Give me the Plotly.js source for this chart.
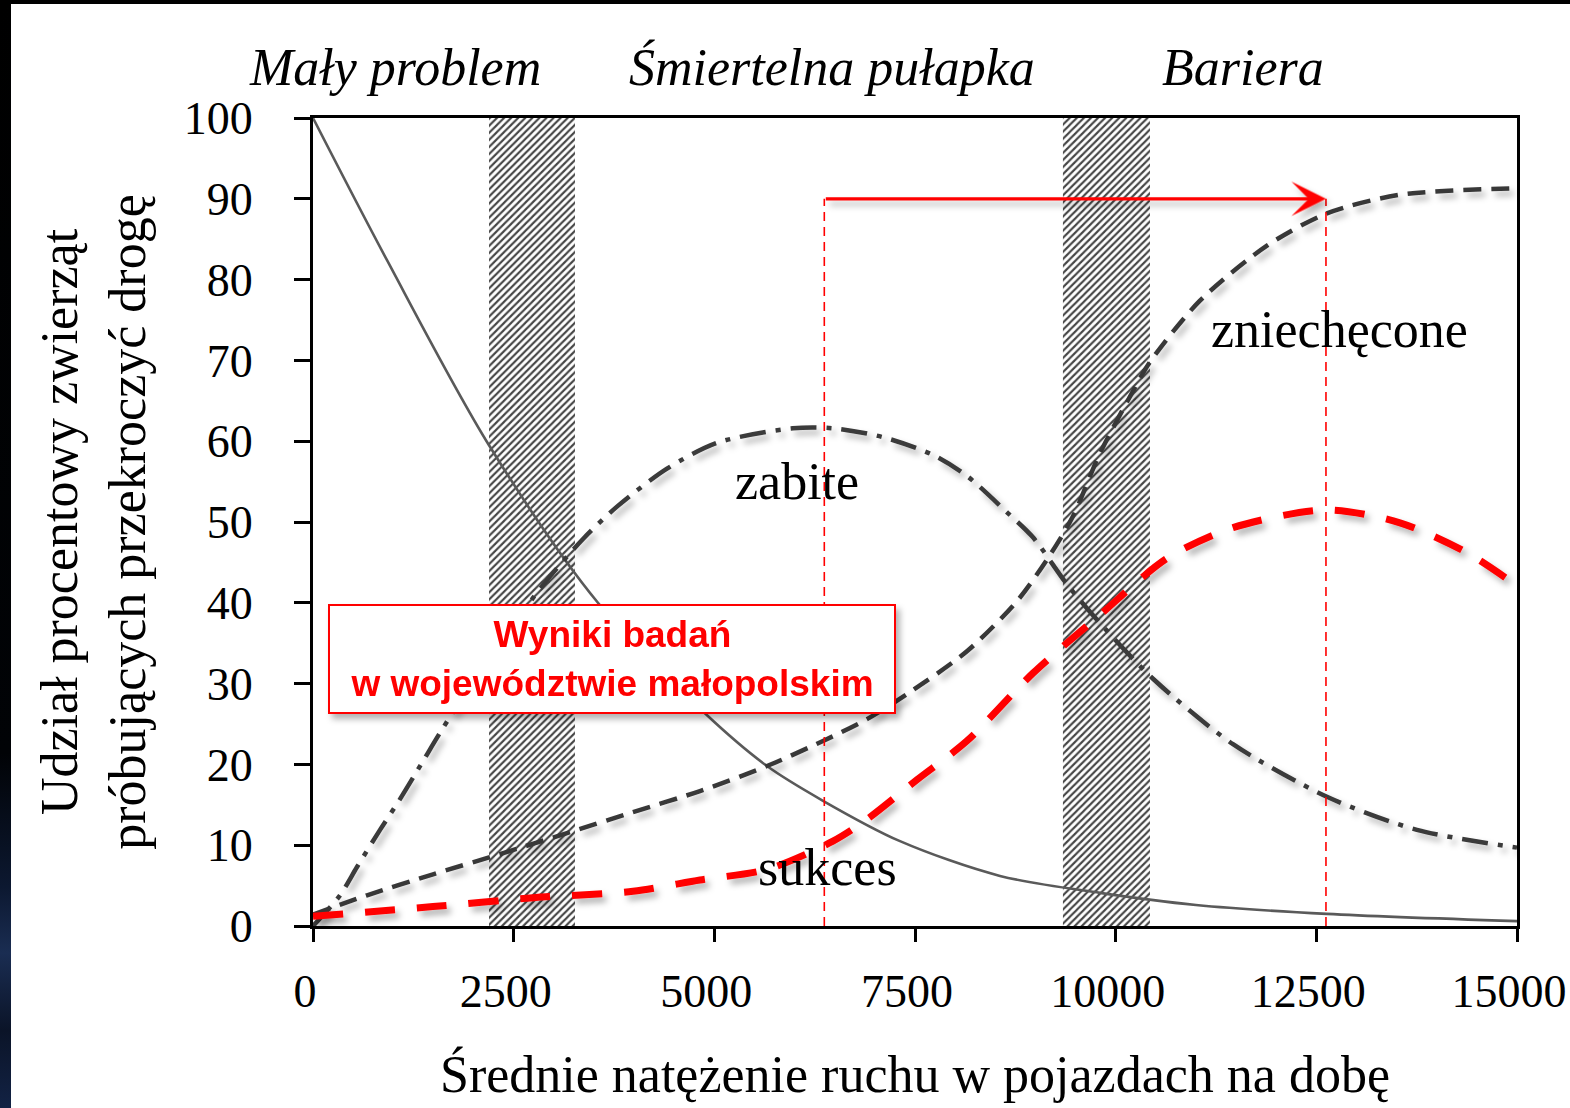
<!DOCTYPE html>
<html><head><meta charset="utf-8">
<script src="https://cdn.plot.ly/plotly-3.0.1.min.js"></script>
<style>
html,body{margin:0;padding:0;width:1570px;height:1108px;overflow:hidden;}
body{background:linear-gradient(to bottom,#000 0%,#010306 68%,#0c1830 80%,#1a2d52 86%,#0b1428 93%,#122244 100%);}
#chart{position:absolute;left:11px;top:4px;width:1559px;height:1104px;background:#fff;}
</style></head><body><div id="chart"></div>
<script>
// ---- data ----
const xTicks = [0, 2500, 5000, 7500, 10000, 12500, 15000];
const xTickText = ['0', '2500', '5000', '7500', '10000', '12500', '15000'];
const yTicks = [0, 10, 20, 30, 40, 50, 60, 70, 80, 90, 100];

// hatched transition bands (start / end of traffic volume)
const bandStart = [2193, 9343];
const bandEnd = [3264, 10427];
const bandTop = [100, 100];

// "sukces" – solid grey
const xSukces = [0, 922, 2193, 3550, 4896, 5656, 6354, 7313, 8559, 9805, 11000, 12630, 15000];
const ySukces = [100, 82.4, 59.5, 40, 26.2, 19.8, 15.5, 10.5, 6.2, 4.1, 2.6, 1.5, 0.6];

// "zabite" – dash-dot
const xZabite = [0, 336, 548, 835, 1084, 1370, 1582, 2000, 2400, 2741, 2990, 3364, 3787, 4410, 5033, 5980, 6478, 7101, 7724, 8147, 8646, 8970, 9393, 9804, 10465, 11462, 12632, 13753, 15000];
const yZabite = [0, 3.8, 7.3, 11.9, 15.7, 20.4, 23.9, 30.4, 36.1, 40.6, 43.7, 47.9, 51.9, 56.6, 59.8, 61.6, 61.6, 60.5, 58.3, 55.7, 51.2, 48.1, 42.3, 37.5, 30.6, 22.5, 16.0, 11.9, 9.7];

// "zniechęcone" – dashed
const xZniech = [0, 673, 1495, 2330, 3164, 3987, 4821, 5656, 6354, 6902, 7400, 8147, 8770, 9181, 9468, 9804, 10216, 10427, 11050, 11885, 12632, 13542, 15000];
const yZniech = [1.4, 3.8, 6.4, 8.9, 11.5, 14.1, 16.7, 19.8, 22.9, 25.6, 28.7, 34.0, 40.2, 45.9, 50.7, 58.5, 66.2, 69.8, 77.4, 84.2, 88.2, 90.5, 91.3];

// red dashed – survey results (Małopolska)
const xRed = [0, 1495, 2741, 3987, 4821, 5656, 6478, 6902, 7524, 8147, 8970, 9804, 10639, 11462, 12632, 13542, 14376, 15000];
const yRed = [1.2, 2.4, 3.5, 4.3, 5.7, 7.0, 10.5, 13.2, 18.1, 22.9, 31.3, 38.5, 45.5, 49.3, 51.5, 49.9, 46.2, 42.1];

// red markers: shift of the "Bariera" threshold
const shiftFrom = 6370, shiftTo = 12620, shiftLevel = 90;

// text labels
const zoneLabels = ['Mały problem', 'Śmiertelna pułapka', 'Bariera'];
const zoneX = [1022, 6466, 11586];
const curveLabels = ['zabite', 'zniechęcone', 'sukces'];
const curveLabelX = [6030, 12794, 6416];
const curveLabelY = [55, 73.8, 7.2];
const boxText = 'Wyniki badań<br>w województwie małopolskim';
const boxX = 3725, boxY = 33;

// ---- chart ----
const serif = 'Liberation Serif, Times New Roman, serif';
const sans = 'Liberation Sans, Arial, sans-serif';

const traces = [
  {
    type: 'bar',
    x: bandStart.map((s, i) => (s + bandEnd[i]) / 2),
    width: bandStart.map((s, i) => bandEnd[i] - s),
    y: bandTop,
    marker: {color: '#ffffff', line: {width: 0},
             pattern: {shape: '/', fgcolor: '#454545', bgcolor: '#ffffff', size: 5, solidity: 0.42}},
    hoverinfo: 'skip', showlegend: false
  },
  {type: 'scatter', mode: 'lines', x: xSukces, y: ySukces, name: 'sukces',
   line: {color: '#5a5a5a', width: 2.6, shape: 'spline', smoothing: 0.9}},
  {type: 'scatter', mode: 'lines', x: xZabite, y: yZabite, name: 'zabite',
   line: {color: '#3a3a3a', width: 4.5, shape: 'spline', smoothing: 0.8, dash: '26px,10px,5px,10px'}},
  {type: 'scatter', mode: 'lines', x: xZniech, y: yZniech, name: 'zniechęcone',
   line: {color: '#383838', width: 4.5, shape: 'spline', smoothing: 0.8, dash: '18px,10px'}},
  {type: 'scatter', mode: 'lines', x: xRed, y: yRed, name: 'Wyniki badań',
   line: {color: '#ff0000', width: 7, shape: 'spline', smoothing: 0.8, dash: '30px,22px'}}
];

const annotations = [];
zoneLabels.forEach((t, i) => annotations.push({
  text: t, x: zoneX[i], xref: 'x', y: 1.063, yref: 'paper', showarrow: false,
  xanchor: 'center', yanchor: 'middle',
  font: {family: serif, size: 52, color: '#000', style: 'italic'}
}));
curveLabels.forEach((t, i) => annotations.push({
  text: t, x: curveLabelX[i], y: curveLabelY[i], xref: 'x', yref: 'y', showarrow: false,
  xanchor: 'center', yanchor: 'middle',
  font: {family: serif, size: 52, color: '#000'}
}));
annotations.push({
  text: boxText, x: boxX, y: boxY, xref: 'x', yref: 'y', showarrow: false,
  xanchor: 'center', yanchor: 'middle', width: 564, height: 106,
  bgcolor: '#ffffff', bordercolor: '#ff0000', borderwidth: 2, borderpad: 0,
  font: {family: sans, size: 37, color: '#ff0000', weight: 'bold'}
});
annotations.push({
  text: '', x: shiftTo, y: shiftLevel, ax: shiftFrom, ay: shiftLevel,
  xref: 'x', yref: 'y', axref: 'x', ayref: 'y', showarrow: true,
  arrowhead: 3, arrowsize: 1.8, arrowwidth: 3.2, arrowcolor: '#ff0000', standoff: 0
});

const shapes = [shiftFrom, shiftTo].map(v => ({
  type: 'line', xref: 'x', yref: 'y', x0: v, x1: v, y0: 0, y1: shiftLevel,
  line: {color: '#ff0000', width: 1.6, dash: '9px,6px'}
}));

const axisCommon = {
  showline: true, linewidth: 3, linecolor: '#000', mirror: true,
  ticks: 'outside', tickwidth: 3, tickcolor: '#000',
  showgrid: false, zeroline: false
};

const layout = {
  width: 1559, height: 1104,
  margin: {l: 302, r: 53, t: 114, b: 182},
  paper_bgcolor: '#ffffff', plot_bgcolor: '#ffffff',
  showlegend: false, barmode: 'overlay',
  xaxis: Object.assign({}, axisCommon, {
    range: [0, 15000], tickvals: xTicks, ticktext: xTickText, ticklen: 13,
    ticklabelstandoff: 10, ticklabelshift: -8, ticklabeloverflow: 'allow',
    tickfont: {family: serif, size: 46, color: '#000'},
    title: {text: 'Średnie natężenie ruchu w pojazdach na dobę', standoff: 40,
            font: {family: serif, size: 52, color: '#000'}}
  }),
  yaxis: Object.assign({}, axisCommon, {
    range: [0, 100], tickvals: yTicks, ticklen: 16,
    ticklabelstandoff: 32,
    tickfont: {family: serif, size: 46, color: '#000'},
    title: {text: 'Udział procentowy zwierząt<br>próbujących przekroczyć drogę', standoff: 22,
            font: {family: serif, size: 52, color: '#000'}}
  }),
  annotations: annotations,
  shapes: shapes
};

Plotly.newPlot('chart', traces, layout, {staticPlot: true}).then(gd => {
  const svg = gd.querySelector('svg.main-svg');
  const ns = 'http://www.w3.org/2000/svg';
  let defs = svg.querySelector('defs');
  if (!defs) { defs = document.createElementNS(ns, 'defs'); svg.insertBefore(defs, svg.firstChild); }
  const f = document.createElementNS(ns, 'filter');
  f.setAttribute('id', 'softshadow');
  f.setAttribute('x', '-10%'); f.setAttribute('y', '-20%');
  f.setAttribute('width', '125%'); f.setAttribute('height', '150%');
  const ds = document.createElementNS(ns, 'feDropShadow');
  ds.setAttribute('dx', '4'); ds.setAttribute('dy', '5'); ds.setAttribute('stdDeviation', '3');
  ds.setAttribute('flood-color', '#000'); ds.setAttribute('flood-opacity', '0.3');
  f.appendChild(ds); defs.appendChild(f);
  gd.querySelectorAll('.scatterlayer .trace').forEach((t, i) => {
    if (i >= 1) t.setAttribute('filter', 'url(#softshadow)');
  });
  gd.querySelectorAll('.annotation').forEach(a => {
    const idx = +a.getAttribute('data-index');
    if (idx >= 6) a.setAttribute('filter', 'url(#softshadow)');
  });
});
</script>
</body></html>
